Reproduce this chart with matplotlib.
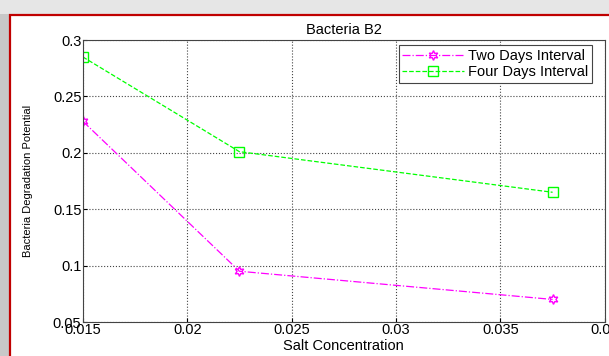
import matplotlib
matplotlib.use("Agg")
import matplotlib.pyplot as plt
from matplotlib.patches import Rectangle

salt = [0.015, 0.0225, 0.0375]
two_days = [0.228, 0.095, 0.070]
four_days = [0.285, 0.201, 0.165]
xticks = [0.015, 0.02, 0.025, 0.03, 0.035, 0.04]
xticklabels = ['0.015', '0.02', '0.025', '0.03', '0.035', '0.04']
yticks = [0.05, 0.1, 0.15, 0.2, 0.25, 0.3]
yticklabels = ['0.05', '0.1', '0.15', '0.2', '0.25', '0.3']

plt.rcParams['font.family'] = ['Liberation Sans', 'DejaVu Sans']
fs = 10.5

fig = plt.figure(figsize=(6.09, 3.56), dpi=100)
fig.patch.set_facecolor('white')

# screenshot frame: grey shadow + red border
fig.patches.append(Rectangle((0, 0), 10/609, 1, transform=fig.transFigure,
                             facecolor='#c8c8c8', edgecolor='none', zorder=0))
fig.patches.append(Rectangle((0, 1 - 14/356), 1, 14/356, transform=fig.transFigure,
                             facecolor='#e6e6e6', edgecolor='none', zorder=0))
fig.patches.append(Rectangle((10/609, -0.05), 1.0, 1 - 15/356 + 0.05, transform=fig.transFigure,
                             facecolor='white', edgecolor='#c00000', linewidth=1.6, zorder=1))

ax = fig.add_axes([82.8/609, 1 - 322/356, 522/609, 282/356])
ax.set_zorder(2)

ax.plot(salt, two_days, color='#ff00ff', linestyle='-.', linewidth=0.9,
        marker=(6, 1, 0), markersize=7, markerfacecolor='none',
        markeredgecolor='#ff00ff', label='Two Days Interval')
ax.plot(salt, four_days, color='#00ff00', linestyle='--', linewidth=0.9,
        marker='s', markersize=7, markerfacecolor='none',
        markeredgecolor='#00ff00', label='Four Days Interval')

ax.set_xlim(0.015, 0.04)
ax.set_ylim(0.05, 0.3)
ax.set_xticks(xticks)
ax.set_xticklabels(xticklabels)
ax.set_yticks(yticks)
ax.set_yticklabels(yticklabels)
ax.tick_params(direction='in', labelsize=fs, length=3, pad=1)
ax.grid(True, linestyle=':', color='#444444', linewidth=0.8)
for s in ax.spines.values():
    s.set_color('#444444')

ax.set_title('Bacteria B2', fontsize=fs, pad=4)
ax.set_xlabel('Salt Concentration', fontsize=fs, labelpad=1)
ax.set_ylabel('Bacteria Degradation Potential', fontsize=8, labelpad=14)

leg = ax.legend(loc='upper right', bbox_to_anchor=(0.9755, 0.982), borderaxespad=0,
                fontsize=fs, fancybox=False, framealpha=1,
                edgecolor='#444444', handlelength=4.2, handletextpad=0.3,
                borderpad=0.25, labelspacing=0.15)
leg.get_frame().set_linewidth(0.8)

fig.savefig('out.png', dpi=100, facecolor=fig.get_facecolor())
